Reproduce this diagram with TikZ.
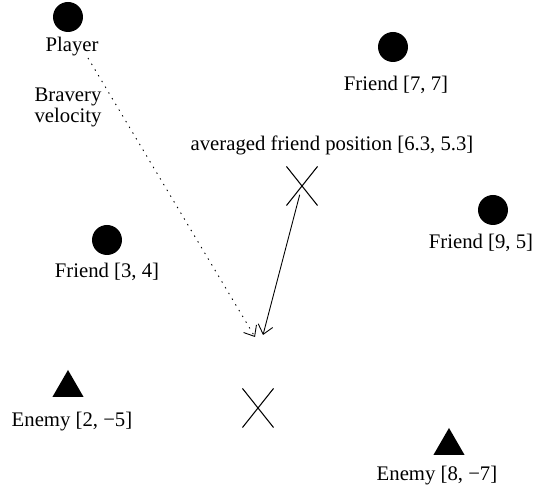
\documentclass[tikz,border=0pt]{standalone}
\usepackage{fontspec}
\setmainfont{Liberation Serif}
\usetikzlibrary{shapes.misc,shapes.geometric,arrows.meta}

\begin{document}
\begin{tikzpicture}[x=0.02cm, y=-0.02cm,
  friend/.style={circle, fill=black, inner sep=0pt, minimum size=0.6cm},
  enemy/.style={regular polygon, regular polygon sides=3, fill=black, inner sep=0pt, minimum size=0.72cm},
  target/.style={cross out, draw=black, line width=0.6pt, inner sep=0pt, minimum width=0.6cm, minimum height=0.76cm},
  lbl/.style={anchor=base, inner sep=0pt, font=\fontsize{11.8}{12}\selectfont},
  vel/.style={line width=0.5pt, -{Straight Barb[length=1.8mm,width=3mm]}}]
\useasboundingbox (0,0) rectangle (549,492);

% agents
\node[friend] (player) at (68,17) {};
\node[friend] (friendA) at (107,240) {};
\node[friend] (friendB) at (393,47) {};
\node[friend] (friendC) at (493,210) {};
\node[enemy] (enemyA) at (68,388) {};
\node[enemy] (enemyB) at (449,446) {};

\node[lbl] (playerlbl) at (72,52) {Player};
\node[lbl] (friendAlbl) at (107,278) {Friend [3, 4]};
\node[lbl] (friendBlbl) at (396,91) {Friend [7, 7]};
\node[lbl] (friendClbl) at (481,249) {Friend [9, 5]};
\node[lbl] (enemyAlbl) at (72,427) {Enemy [2, −5]};
\node[lbl] (enemyBlbl) at (437,481) {Enemy [8, −7]};

% positions
\node[target] (avg) at (302,186) {};
\node[target] (goal) at (258,408) {};
\node[lbl] (avglbl) at (332,151) {averaged friend position [6.3, 5.3]};
\node[lbl, anchor=center, align=center] (bravery) at (68,107) {Bravery\\velocity};

\coordinate (vstart) at (88,58);
\coordinate (tipA) at (255,337);
\coordinate (tipB) at (263,335);
\draw[vel, dash pattern=on 0.8pt off 3pt] (vstart) -- (tipA);
\draw[vel, shorten <=0.18cm] (avg.center) -- (tipB);
\end{tikzpicture}
\end{document}
